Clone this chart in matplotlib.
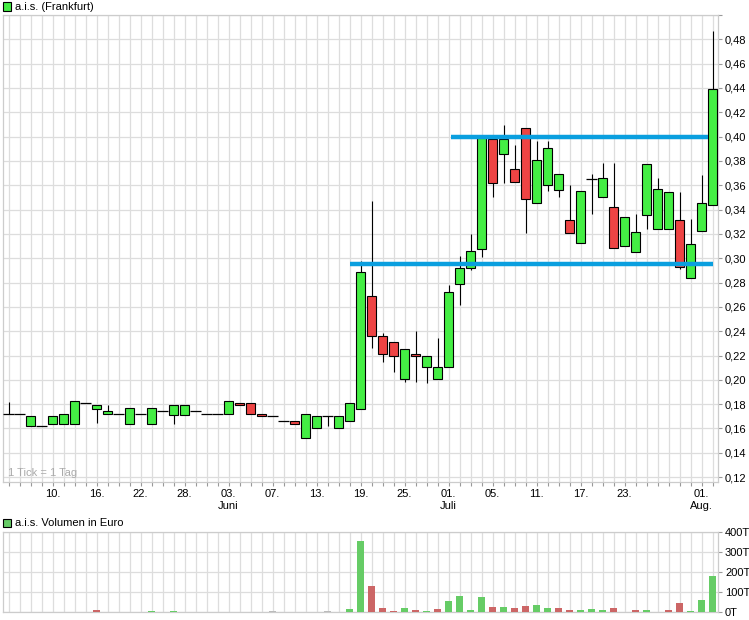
import numpy as np
import matplotlib
matplotlib.use("Agg")
import matplotlib.pyplot as plt
from matplotlib.patches import Rectangle
from matplotlib.ticker import FuncFormatter

plt.rcParams['font.family'] = ['Liberation Sans', 'DejaVu Sans']

# ---------------- data ----------------
opens = [0.172, 0.172, 0.1624, 0.1624, 0.164, 0.164, 0.164, 0.181, 0.1764, 0.1717,
         0.172, 0.164, 0.172, 0.164, 0.1747, 0.1714, 0.1714, 0.1747, 0.172, 0.172,
         0.172, 0.1813, 0.1813, 0.172, 0.170, 0.1665, 0.1665, 0.1525, 0.1607, 0.170,
         0.1607, 0.1665, 0.1764, 0.2688, 0.2358, 0.2308, 0.2011, 0.2209, 0.2108, 0.2003,
         0.2108, 0.2787, 0.2919, 0.3074, 0.3978, 0.3855, 0.3737, 0.4074, 0.3457, 0.360,
         0.3559, 0.3312, 0.3123, 0.3649, 0.3507, 0.3425, 0.3101, 0.3055, 0.3353, 0.3238,
         0.3238, 0.3315, 0.284, 0.322, 0.3438]
closes = [0.172, 0.172, 0.170, 0.1624, 0.170, 0.172, 0.183, 0.181, 0.179, 0.1747,
          0.172, 0.177, 0.172, 0.177, 0.1747, 0.1797, 0.1797, 0.1747, 0.172, 0.172,
          0.183, 0.1797, 0.1723, 0.170, 0.170, 0.1665, 0.1635, 0.172, 0.170, 0.170,
          0.170, 0.1813, 0.2883, 0.2358, 0.2209, 0.2193, 0.225, 0.2193, 0.220, 0.2102,
          0.2721, 0.2919, 0.3063, 0.3986, 0.3622, 0.3978, 0.363, 0.349, 0.3808, 0.391,
          0.3696, 0.3211, 0.3553, 0.3649, 0.3663, 0.3082, 0.3342, 0.3219, 0.3778, 0.3572,
          0.3548, 0.2924, 0.312, 0.3458, 0.4389]
highs = [0.182, 0.172, 0.170, 0.1624, 0.170, 0.172, 0.183, 0.181, 0.179, 0.179,
         0.172, 0.177, 0.172, 0.177, 0.1747, 0.1797, 0.1797, 0.1747, 0.172, 0.172,
         0.183, 0.1813, 0.1813, 0.172, 0.170, 0.1665, 0.1665, 0.172, 0.170, 0.170,
         0.170, 0.1813, 0.2974, 0.347, 0.2383, 0.2308, 0.225, 0.240, 0.220, 0.2347,
         0.278, 0.302, 0.3203, 0.3986, 0.400, 0.4093, 0.3929, 0.4074, 0.3964, 0.3964,
         0.3696, 0.360, 0.3553, 0.369, 0.3786, 0.3786, 0.3342, 0.3367, 0.3778, 0.3663,
         0.3548, 0.3548, 0.332, 0.3685, 0.4868]
lows = [0.172, 0.172, 0.1624, 0.1624, 0.164, 0.164, 0.164, 0.181, 0.1646, 0.1717,
        0.172, 0.164, 0.172, 0.164, 0.1747, 0.164, 0.1714, 0.1747, 0.172, 0.172,
        0.172, 0.1797, 0.1723, 0.170, 0.170, 0.1665, 0.1635, 0.1525, 0.1607, 0.1624,
        0.1607, 0.1665, 0.1764, 0.2264, 0.2149, 0.2066, 0.1984, 0.1984, 0.197, 0.2003,
        0.2108, 0.2616, 0.2905, 0.3014, 0.3504, 0.3622, 0.363, 0.3211, 0.3457, 0.3553,
        0.3507, 0.3211, 0.3123, 0.3367, 0.3507, 0.3082, 0.3101, 0.3055, 0.3238, 0.3238,
        0.3238, 0.2915, 0.284, 0.322, 0.3438]
volumes_t = [0, 0, 0, 0, 0, 0, 0, 0, 8, 0,
             0, 0, 0, 5, 0, 5, 0, 0, 0, 0,
             0, 0, 0, 0, 5, 0, 0, 0, 0, 5,
             0, 15, 353, 130, 20, 5, 17, 10, 5, 15,
             55, 80, 10, 75, 25, 25, 20, 30, 35, 20,
             20, 10, 10, 15, 10, 20, 0, 10, 10, 0,
             10, 45, 5, 60, 180]
tick_cols = [4, 8, 12, 16, 20, 24, 28, 32, 36, 40, 44, 48, 52, 56, 63]
tick_labels = ["10.", "16.", "22.", "28.", "03.\nJuni", "07.", "13.", "19.", "25.",
               "01.\nJuli", "05.", "11.", "17.", "23.", "01.\nAug."]
line_levels = [0.295, 0.400]
line_starts = [31.0, 40.2]
line_ends = [64.0, 63.6]
price_ticks = [0.12, 0.14, 0.16, 0.18, 0.20, 0.22, 0.24, 0.26, 0.28, 0.30,
               0.32, 0.34, 0.36, 0.38, 0.40, 0.42, 0.44, 0.46, 0.48]
vol_ticks = [0, 100, 200, 300, 400]

# ---------------- styling ----------------
GREEN = '#44ee44'
RED = '#ee4444'
VGREEN = '#66cc66'
VRED = '#cc6666'
VGRAY = '#bbbbbb'
BLUE = '#0a9fdf'
GRID = '#dddddd'
FS = 8

o = np.array(opens); c = np.array(closes); h = np.array(highs); l = np.array(lows)
n = len(o)
x = np.arange(n)

W, H = 749, 620
fig = plt.figure(figsize=(W / 100, H / 100), dpi=100)

def ax_rect(left, top, right, bottom):
    return [left / W, 1 - bottom / H, (right - left) / W, (bottom - top) / H]

ax = fig.add_axes(ax_rect(3, 15, 718, 482))
axv = fig.add_axes(ax_rect(3, 531.5, 718, 611.7))

for a in (ax, axv):
    a.set_xlim(-0.5, n - 0.5)
    a.set_xticks(x)
    a.grid(True, color=GRID, lw=0.9, zorder=0)
    a.set_axisbelow(True)
    for s in a.spines.values():
        s.set_color('#cccccc')
        s.set_linewidth(0.9)
    a.yaxis.tick_right()
    a.tick_params(axis='both', colors='#999999', labelcolor='black', labelsize=FS,
                  length=3, width=0.8, pad=2)

# price panel
ax.set_ylim(0.116, 0.50)
ax.set_yticks(price_ticks + [0.50])
ax.yaxis.set_major_formatter(FuncFormatter(
    lambda v, p: ('%.2f' % v).replace('.', ',') if v < 0.495 else ''))
labels = [''] * n
for col, lab in zip(tick_cols, tick_labels):
    labels[col] = lab
ax.set_xticklabels(labels, fontsize=FS, linespacing=1.25)

# wicks
ax.vlines(x, l, h, color='black', lw=0.8, zorder=2)
# bodies
flat = np.isclose(o, c)
up = (c > o) & ~flat
down = (c < o) & ~flat
ax.bar(x[up], (c - o)[up], bottom=o[up], width=0.9, color=GREEN,
       edgecolor='black', linewidth=0.8, zorder=3)
ax.bar(x[down], (o - c)[down], bottom=c[down], width=0.9, color=RED,
       edgecolor='black', linewidth=0.8, zorder=3)
ax.hlines(c[flat], x[flat] - 0.5, x[flat] + 0.5, color='black', lw=0.9, zorder=3)

# support / resistance lines
ax.hlines(line_levels, line_starts, line_ends, color=BLUE, lw=3.2, zorder=4)

ax.text(0.007, 0.008, '1 Tick = 1 Tag', transform=ax.transAxes, fontsize=FS,
        color='#aaaaaa', ha='left', va='bottom')

# volume panel
vol = np.array(volumes_t, dtype=float)
prev = np.concatenate([[c[0]], c[:-1]])
diff = np.round(c - prev, 4)
vcolors = np.where(diff > 0, VGREEN, np.where(diff < 0, VRED, VGRAY))
axv.bar(x, vol * 1000, width=0.7, color=list(vcolors), zorder=3)
axv.set_ylim(0, 400000)
axv.set_yticks([v * 1000 for v in vol_ticks])
axv.set_yticklabels(['%dT' % v for v in vol_ticks], fontsize=FS)
axv.set_xticklabels([])
axv.tick_params(axis='x', length=0)

# headers
def header(ytop_px, text, fc):
    fig.patches.append(Rectangle((3 / W, 1 - (ytop_px + 9) / H), 8 / W, 8 / H,
                                 transform=fig.transFigure, facecolor=fc,
                                 edgecolor='black', linewidth=0.8))
    fig.text(15 / W, 1 - (ytop_px + 5) / H, text, fontsize=FS, ha='left', va='center')

header(1.5, 'a.i.s. (Frankfurt)', GREEN)
header(517.5, 'a.i.s. Volumen in Euro', VGREEN)

fig.savefig('out.png', dpi=100)
